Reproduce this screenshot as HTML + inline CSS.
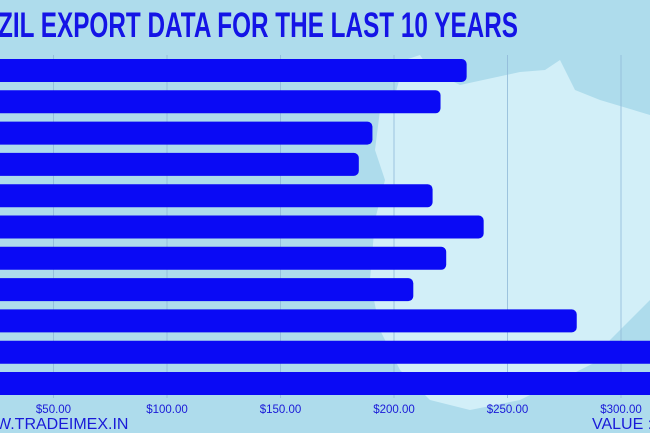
<!DOCTYPE html>
<html><head><meta charset="utf-8"><style>
html,body{margin:0;padding:0;background:#aedcec;}
svg{display:block;font-family:"Liberation Sans",sans-serif;}
</style></head><body>
<svg id="chart" width="650" height="433" viewBox="0 0 650 433" xmlns="http://www.w3.org/2000/svg">
<rect x="0" y="0" width="650" height="433" fill="#aedcec"/>
<polygon fill="#d2eff8" points="380,110 395,95 405,60 420,55 430,70 460,85 520,72 545,70 560,60 575,90 600,100 650,115 650,300 630,320 610,340 600,360 560,380 520,400 470,410 430,400 400,370 380,330 370,280 375,220 385,180 375,150"/>
<text x="-2" y="37" font-size="35" font-weight="bold" fill="#1414e6" textLength="520" lengthAdjust="spacingAndGlyphs">ZIL EXPORT DATA FOR THE LAST  10 YEARS</text>
<g id="grid"></g>
<g id="bars"></g>
<g id="ticks"></g>
<text x="-4" y="429" font-size="16" fill="#1a1ad8">W.TRADEIMEX.IN</text>
<text x="592" y="429" font-size="16" fill="#1a1ad8">VALUE :</text>
</svg>
<script>
const years = ["2014","2015","2016","2017","2018","2019","2020","2021","2022","2023","2024"];
const values = [232, 220.5, 190.5, 184.5, 217, 239.5, 223, 208.5, 280.5, 335, 345];
const tickValues = [50,100,150,200,250,300];
const tickLabels = ["$50.00","$100.00","$150.00","$200.00","$250.00","$300.00"];
const NS="http://www.w3.org/2000/svg";
function xScale(v){ return -60 + v*2.27; }
function yScale(i){ return 59 + i*31.3; }
const barH=23;
const grid=document.getElementById('grid'), bars=document.getElementById('bars'), ticks=document.getElementById('ticks');
tickValues.forEach((t,i)=>{
  const x=xScale(t);
  const l=document.createElementNS(NS,'line');
  
  
  l.setAttribute('x1',x);l.setAttribute('x2',x);l.setAttribute('y1',55);l.setAttribute('y2',398);
  l.setAttribute('stroke','#8fb8d8');l.setAttribute('stroke-width','0.8');
  grid.appendChild(l);
  const tx=document.createElementNS(NS,'text');
  
  
  tx.setAttribute('x',x);tx.setAttribute('y',413);tx.setAttribute('text-anchor','middle');
  tx.setAttribute('font-size','11.5');tx.setAttribute('fill','#1a1ad8');
  tx.textContent=tickLabels[i];
  ticks.appendChild(tx);
});
values.forEach((v,i)=>{
  const r=document.createElementNS(NS,'rect');
  
  
  r.setAttribute('x',-20);r.setAttribute('y',yScale(i));
  r.setAttribute('width',xScale(v)+20);r.setAttribute('height',barH);
  r.setAttribute('rx',5);r.setAttribute('fill','#0a0af5');
  bars.appendChild(r);
});
</script>
</body></html>
